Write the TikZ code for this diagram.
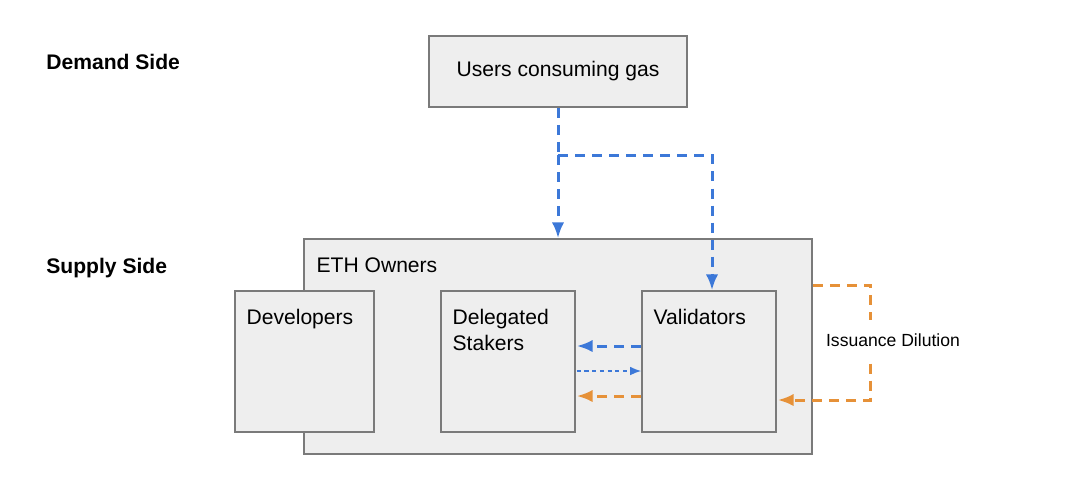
\documentclass[tikz,border=0pt]{standalone}
\usepackage{fontspec}
\setmainfont{Liberation Sans}
\usetikzlibrary{calc,arrows.meta}
\definecolor{boxfill}{HTML}{EEEEEE}
\definecolor{boxline}{HTML}{7A7A7A}
\definecolor{flowblue}{HTML}{3C78D8}
\definecolor{floworange}{HTML}{E69138}
\begin{document}
\begin{tikzpicture}[x=0.2mm, y=-0.2mm,
		box/.style={draw=boxline, line width=0.85pt, fill=boxfill, inner sep=0pt},
		lbl/.style={inner sep=0pt, anchor=north west, align=left, font=\fontsize{12pt}{14.7pt}\selectfont},
		side/.style={inner sep=0pt, anchor=west, font=\fontsize{12pt}{14.7pt}\selectfont\bfseries},
		bluedash/.style={draw=flowblue, line width=1.7pt, dash pattern=on 5.7pt off 4pt},
		bluedot/.style={draw=flowblue, line width=0.9pt, dash pattern=on 2.3pt off 2.1pt},
		orangedash/.style={draw=floworange, line width=1.7pt, dash pattern=on 5.7pt off 4pt},
		tip/.style={-{Latex[length=9pt, width=7pt]}},
		smalltip/.style={-{Latex[length=6.4pt, width=5pt]}}]
			%%%%% START %%%%%
			
			\useasboundingbox (0, 0) rectangle (1080, 495);
			
			\node[side] (demand) at (46, 62) {Demand Side};
			\node[side] (supply) at (46, 268) {Supply Side};
			
			\node[box, minimum width=258*0.2mm, minimum height=71*0.2mm, font=\fontsize{12pt}{14.7pt}\selectfont] (users) at (558, 71.5) {Users consuming gas};
			
			\node[box, minimum width=508*0.2mm, minimum height=215*0.2mm] (eth) at (558, 346.5) {};
			\node[lbl] (ethtxt) at ($(eth.north west)+(13, 19)$) {ETH Owners};
			
			\node[box, minimum width=139*0.2mm, minimum height=141*0.2mm] (dev) at (304.5, 361.5) {};
			\node[lbl] (devtxt) at ($(dev.north west)+(12, 19)$) {Developers};
			
			\node[box, minimum width=134*0.2mm, minimum height=141*0.2mm] (deleg) at (508, 361.5) {};
			\node[lbl] (delegtxt) at ($(deleg.north west)+(12, 19)$) {Delegated\\Stakers};
			
			\node[box, minimum width=134*0.2mm, minimum height=141*0.2mm] (valid) at (709, 361.5) {};
			\node[lbl] (validtxt) at ($(valid.north west)+(12, 19)$) {Validators};
			
			% gas fees go to ETH owners and validators
			\coordinate (split) at (558, 155);
			\coordinate (bend) at (712, 155);
			\draw[bluedash] (users.south) -- (split);
			\draw[bluedash, tip] (split) -- (eth.north);
			\draw[bluedash, tip] (split) -- (bend) -- (bend |- valid.north);
			
			% between validators and delegated stakers
			\draw[bluedash, tip] ($(valid.west)+(0, -15.5)$) -- ($(deleg.east)+(1, -15.5)$);
			\draw[bluedot, smalltip] ($(deleg.east)+(1, 9.5)$) -- ($(valid.west)+(0, 9.5)$);
			\draw[orangedash, tip] ($(valid.west)+(0, 34.5)$) -- ($(deleg.east)+(1, 34.5)$);
			
			% issuance loop
			\draw[orangedash, tip] ($(eth.north east)+(0, 47)$) -- ++(58, 0) |- ($(valid.east)+(1, 38.5)$);
			\node[fill=white, inner xsep=1pt, inner ysep=8pt, font=\fontsize{10pt}{12pt}\selectfont] (dilution) at (893, 340) {Issuance Dilution};
			
			%%%%% END %%%%%
\end{tikzpicture}
\end{document}
